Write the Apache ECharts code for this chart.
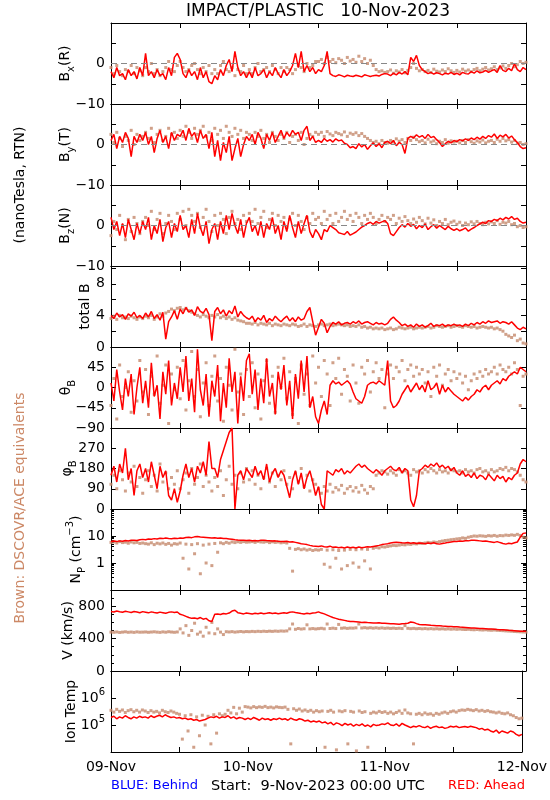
<!DOCTYPE html>
<html><head><meta charset="utf-8">
<script src="https://cdn.jsdelivr.net/npm/echarts@6/dist/echarts.min.js"></script>
<style>html,body{margin:0;padding:0;background:#fff}#c{width:550px;height:800px}</style>
</head><body><div id="c"></div>
<script>
// x axis: hours since 9-Nov-2023 00:00 UTC, samples every 30 min
const dayLabels = ['09-Nov','10-Nov','11-Nov','12-Nov'];
const stepHours = 0.5;

const bxA = [-2,-3.5,-1,-3,-2.5,-4,-1.5,-3,-2,-3.8,-1,-3,
 2.5,-3,-2,-3.5,-1.5,-3,-2.5,-4,-1,-3,1.5,2.5,
 1,-2.5,-3.5,-1.5,-3,-2,-4,-1,-3.5,-2,-4.5,-5,
 -3,-4,-1.5,-3,-0.5,1,-2,3,-1,-3,-2,-3.5,
 -2,-3.5,-1,-3,-2.5,-1.5,-3.5,-2,-3,-1,-2.5,-3.5,
 -1.5,-3,-2,-0.5,2.5,-1,3,-2,-0.5,-2,-1,-2.5,
 -1.5,-2,-0.5,3,-2.5,-3,-3.2,-2.8,-3,-3.3,-2.9,-3.1,
 -3.2,-2.9,-3.1,-3.3,-2.8,-3,-3.2,-3,-2.9,-3.1,-2.7,-2.5,
 -2.6,-3,-2.4,-2.8,-2.2,-2.6,-2,-2.8,1.5,0.5,2,-0.5,
 -1.5,-2,-2.5,-2.2,-2.6,-2.3,-2.5,-2.8,-2.4,-2.6,-2.2,-2.7,
 -2.4,-2.8,-2.2,-2.5,-2.6,-2,-2.4,-1.8,-2.3,-2.1,-1.7,-2.2,
 -1.8,-1.5,-2.2,-0.5,-1.7,-2,-1.2,-1.8,0,-1.5,-2,-1,
 -1.5];
const bxD = [-1,-2.5,-0.5,-2,-3,-1.5,-2,-0.5,-2.5,-1,-1.8,-3,
 -1,-2,0,-2.5,-1.5,-3,-2,-1,0.5,-1.5,-2,-0.5,
 0.5,-1,-2,-1.5,-0.5,0,-1.5,-2.5,-1,-2,-0.5,-2.5,
 -1.5,-2.5,-0.5,0.5,-1.5,-2,-1,-3,-1.5,-2,-0.5,-2.5,
 -1.5,-2.5,-1,0,-2,-1.5,-1,-2,-0.5,-1.5,-2.5,-1,
 -2,-1,-1.5,-2.5,-1.5,-0.5,-1,-2,0,-1,-0.5,0.5,
 0.5,1,0,1.5,0.5,1,0.2,1.2,0.8,0,1.5,0.6,
 1,0.3,1.8,0.5,1.2,0,0.8,-0.5,-1.5,-2,-1.8,-2.2,
 -2,-1.6,-2.4,-1.8,-2.1,-1.5,-2.3,-1.7,-1,0,-1.2,-1.8,
 -1.5,-2,-1.7,-2.2,-1.4,-1.9,-2.1,-1.6,-2,-1.3,-1.8,-2.2,
 -1.7,-2.1,-1.4,-1.9,-1.6,-2,-1.5,-1.2,-1.8,-1.4,-1,-1.6,
 -1.3,-0.8,-1.5,-1.1,-0.6,-1.2,-0.5,0,-0.8,-0.3,0.5,0,
 0.3];
const byA = [1,2.5,-1,2,0.5,3,1.5,-3,2,0.5,2.5,1,
 3,0,2,-2,1.5,3.5,0.5,2,-1,3,1,2.5,
 2,3.5,1,4,2,3,0.5,3.5,1.5,2.5,-1,3,
 -3,1,-4,0.5,-2,2,-4,-1,1.5,-3,0,2,
 1,2.5,0,3,1.5,-1,2.5,1,3,0.5,2,3.5,
 1.5,3,2,3.5,2.5,3,1,3.5,4.5,1,2,0.5,
 1,0.5,1.5,0.8,1.2,0.6,1.4,0.9,1.1,0.3,0,-0.8,
 -0.5,-1,0.2,-0.6,0,-1.2,-0.3,0.4,-0.5,0.2,-0.8,0.5,
 0.8,0.2,1,-0.3,0.5,0,-2.2,1.5,2,1.6,2.4,1.8,
 2.2,1.5,2.5,1.7,2,1.2,0.5,-0.5,0.2,0.8,0.4,1,
 0.7,1.2,0.9,1.4,1,1.6,1.2,1.8,1.3,2,1.5,2.2,
 1.8,2.6,1.5,2.3,1.9,2.5,1.6,2.1,1.2,0.5,-0.5,-1,
 -0.8];
const byD = [2.5,0.5,3,1.5,-0.5,2,1,3.5,0,2.5,1,2,
 3,1.5,4,0.5,2.5,3.5,1,2,4,2.5,3,1.5,
 3.5,2,4.5,3,1.5,4,2.5,3.5,4.5,2,3,1,
 4,2.5,3.5,1.5,4.5,3,2,4,2.5,3.5,1.5,3,
 2.5,1,3,2,3.5,1.5,2.5,0.5,3,2,1,2.5,
 1.5,3,0.5,2,2.5,1,3,0,1.5,2.5,2,3,
 2.5,3,2,3.2,2.6,2.2,3,2.7,2.4,3.1,2,2.8,
 2.5,2.9,2.2,2.7,2,1.5,1,0.5,0.8,0.2,1,0.5,
 0.3,1,0.6,1.4,0.8,1.2,0.5,1.5,1,1.8,1.2,0.7,
 1,0.4,1.3,0.6,0.9,0.2,0.8,0.5,1.2,0.3,0.9,0.6,
 0.8,0.4,1,0.5,1.2,0.7,0.3,0.9,0.6,1.1,0.4,0.8,
 1,0.5,1.3,0.8,1.5,0.9,1.2,0.6,1,0.3,0.5,0,
 0.2];
const bzA = [2,-1,1,-2.5,0.5,-3,1.5,-1,-3.5,0.5,-2,1,
 -1,2,-3.5,0,-2,1.5,-4,-0.5,1,-3,0.5,-1.5,
 2.5,-1,0,-3,1.5,-2,3,-0.5,-2.5,1,-4.5,-1,
 0.5,-3.5,1,-2,2.5,-1,3,0,-2,1.5,-3,0.5,
 2,-1.5,0,-2.5,1,-3,0.5,-1,2,-2,0,-3.5,
 1,-1.5,2.5,-0.5,-3,1,-2,0.5,2.5,-1.5,-3,-1,
 -2,-3.5,-1,-1.5,0,-0.5,-1,-1.8,-2,-2.2,-1.5,-2.4,
 -2,-1.6,-1,-0.4,0,0.5,0.8,0.3,1,0.6,0.9,1.2,
 0.5,-2,-2.5,-1.5,-0.5,0.2,-0.4,0.5,-0.2,0.3,-0.8,0,
 -0.5,0.4,-1,-0.3,0.2,-0.7,0,-0.5,-1,-0.2,-0.8,-1.2,
 -0.8,-1.3,-1,-0.6,-1.4,-0.9,-0.5,0,0.4,0.8,0.5,1.2,
 1,1.5,1.2,1.8,1.4,2,1.6,2.2,1.5,1.8,1,0.6,
 0.8];
const bzD = [-2.5,1,-1,2.5,0,-3.5,1.5,-1.5,2,0.5,-2,1,
 2,0,3.5,-1,1.5,3,-2,0.5,2.5,1,-1,3,
 1.5,3.5,0,4,2.5,1,3,-0.5,2,4,1,-1.5,
 2.5,0,3,1.5,-2,2,3.5,0.5,1.5,-1,2.5,1,
 3,1,4,0.5,2,3.5,-0.5,1.5,3,0,2.5,1,
 2,-0.5,1.5,3,0,2.5,1,-1,2,0.5,3,1.5,
 2,0.5,3.5,1.5,2.5,0.5,3,1,2,3.5,1.5,2.5,
 1,3,2,0.5,2.5,1.5,3,2,0.5,1.5,2.5,1,
 2,1.5,2.5,0.5,1.8,1,2.2,1.2,0.5,1.6,0.8,2,
 1.2,0.4,1.8,0.6,1.4,0,1,0.5,1.5,0.2,0.8,1.1,
 0.3,0.8,0,0.6,0.2,0.9,0.4,1,0.5,0.2,0.8,0.4,
 0.9,0.5,1.2,0.3,0.8,0.6,1,0.2,0.5,-0.3,0,-0.5,
 -0.3];
const btA = [4,3.6,4.3,3.8,4.1,3.5,4.2,3.9,4.4,3.7,4,3.6,
 4.3,3.8,4.5,3.6,4.1,3.4,4.4,1,3.2,3.8,4.6,3.5,
 4.8,4.2,5,4.4,4.7,4,5.1,4.5,4.3,4.9,4.1,0.8,
 4.5,5,4.2,4.7,3.9,4.6,4.2,5.2,3.8,4.5,4,3.7,
 3.5,3.9,3.2,3.7,3.4,4,3.1,3.6,3.3,3.9,3.5,3.2,
 3.6,3.9,3.3,3.7,3.2,3.8,3.4,3.6,4.5,5,3.2,1.5,
 2.5,3.5,3,1.8,2.6,3.1,2.9,3.2,2.8,3,3.1,2.9,
 3.2,3,3.3,2.9,3.1,3.2,3,2.8,3.1,2.9,3,2.8,
 3,3.5,3.8,3.4,3.1,2.7,2.9,2.6,2.8,2.5,2.9,2.6,
 2.8,2.5,2.7,3,2.6,2.8,2.7,2.9,2.6,2.8,2.7,2.9,
 2.7,2.8,2.6,2.9,2.7,3,2.8,3.1,2.9,3.2,3,3.3,
 3.1,3.2,3.3,3,3.2,3.1,2.9,3.2,2.8,2.4,2.2,2.5,
 2.3];
const btD = [3.6,3.9,3.5,4,3.7,3.8,3.6,3.9,3.7,3.5,3.8,3.6,
 3.9,3.7,4,3.5,3.8,4.2,3.9,4.3,4.5,4.8,4.6,4.9,
 5,4.7,4.9,4.6,4.4,4.2,4,3.8,4.1,3.9,3.7,4,
 3.8,4.1,3.7,3.9,3.6,3.8,3.5,3.7,3.4,3.3,3.2,3,
 3,2.9,3.1,2.8,3,2.9,2.8,3,2.7,2.9,2.8,2.7,
 2.9,2.8,2.7,2.9,2.8,2.6,2.7,2.9,2.6,2.8,2.7,2.6,
 2.8,2.9,2.7,2.8,2.9,2.7,2.8,2.9,2.8,2.7,2.8,2.6,
 2.7,2.6,2.8,2.5,2.6,2.4,2.5,2.3,2.4,2.3,2.4,2.2,
 2.3,2.4,2.2,2.3,2.5,2.4,2.3,2.4,2.5,2.3,2.4,2.5,
 2.4,2.5,2.6,2.4,2.5,2.7,2.6,2.5,2.6,2.7,2.5,2.6,
 2.7,2.6,2.5,2.7,2.6,2.5,2.6,2.4,2.5,2.6,2.5,2.4,
 2.5,2.3,2.4,2.2,2,1.6,1.4,1.2,1.5,0.8,1,0.5,
 0.4];
const thA = [10,-30,40,-10,-50,20,-20,30,-60,0,45,-35,
 15,-45,55,-20,5,-70,35,-15,60,-40,10,-25,
 45,-10,70,-30,20,-55,85,-5,-40,30,-65,15,
 -20,50,-75,10,-45,65,-10,35,-80,25,-30,60,
 75,-15,40,-50,20,-35,65,-20,10,-60,35,-5,
 50,-40,15,-70,30,-25,60,-10,70,-45,-20,-65,
 -80,-50,-30,-60,5,15,8,12,5,10,15,8,
 -10,-25,-30,-35,-20,5,10,12,8,15,10,5,
 60,-30,-45,-40,-30,-15,-5,5,-10,0,10,-5,
 5,-10,15,-5,0,10,-15,5,-10,0,-8,-15,
 -20,-25,-30,-22,-28,-20,-15,-5,-10,0,5,-5,
 5,10,15,8,20,15,25,30,35,30,45,40,
 35];
const thD = [-40,20,-70,50,-20,0,35,-55,15,-30,60,-10,
 40,-60,25,-15,70,-35,5,50,-80,30,-5,45,
 -25,60,-50,15,80,-20,40,-65,10,55,-40,25,
 70,-30,20,-75,45,5,-50,85,-10,30,-60,40,
 -20,55,-45,30,-70,15,60,-35,25,-55,45,0,
 65,-25,35,-60,20,-80,50,-15,30,-40,70,10,
 45,-20,60,30,-40,55,20,65,-15,40,25,-30,
 50,10,-35,45,30,60,-10,35,55,20,40,-45,
 30,50,20,45,35,60,15,40,50,25,45,30,
 40,10,35,-20,45,25,50,5,30,40,15,35,
 20,30,10,25,-5,15,30,20,35,25,40,30,
 35,45,30,50,40,35,45,30,55,40,-40,25,
 30];
const phA = [150,190,120,200,160,270,130,180,60,170,200,140,
 180,120,210,150,90,190,140,170,60,40,90,30,
 80,150,200,140,180,120,190,160,210,150,300,180,
 180,140,220,260,300,340,360,0,150,170,130,180,
 160,140,190,150,170,130,200,120,160,180,140,170,
 150,100,50,130,170,110,160,90,140,170,120,60,
 100,20,0,170,160,150,175,165,180,155,170,160,
 175,190,200,185,195,180,170,160,175,165,150,170,
 180,190,175,170,185,160,180,170,40,10,60,170,
 180,195,185,200,190,205,185,195,180,190,170,185,
 160,150,170,145,155,140,160,135,150,145,130,155,
 140,125,150,135,145,120,140,130,150,160,200,220,
 210];
const phD = [110,150,90,170,130,80,160,120,190,100,140,70,
 130,170,100,150,80,200,120,160,90,140,110,170,
 90,130,160,70,180,110,140,200,100,150,120,80,
 140,100,170,60,130,190,110,150,90,160,120,180,
 130,170,110,150,90,140,180,120,160,100,150,130,
 170,110,140,90,160,120,180,100,150,80,130,110,
 90,70,100,80,110,75,95,85,105,70,90,100,
 80,95,75,105,85,70,100,90,150,160,170,165,
 155,170,160,150,175,165,170,160,150,175,165,170,
 160,175,165,180,170,160,175,165,170,160,175,170,
 165,170,160,175,165,170,160,175,180,165,170,160,
 175,165,170,180,175,185,170,180,175,165,150,130,
 120];
const npA = [6.3,6.5,6.2,6.6,6.4,6.8,6.5,6.9,7,6.8,7.2,7.5,
 7.3,7.8,7.6,8,7.7,8.2,8,8.4,8.1,7.9,8.3,8,
 8.5,8.2,8.8,9,8.7,9.3,9.6,9.2,9,8.8,8.6,8.4,
 8.6,8.3,8.5,8.1,8,7.8,7.6,7.3,7.1,7,6.9,6.8,
 6.9,6.7,6.8,6.6,6.9,7,6.8,6.7,6.5,6.6,6.4,6.3,
 6.2,6.4,6,6.1,5.8,5.5,5.2,5,4.8,4.5,4.3,4.2,
 4.1,4.3,4,3.9,4.2,3.8,3.9,3.7,3.8,3.6,3.9,3.7,
 3.8,3.6,3.9,3.7,3.8,4,3.9,4.1,4.3,4.5,4.8,5,
 5.2,5.5,5.7,5.9,5.8,5.6,5.5,5.7,5.4,5.6,5.3,5.5,
 5.4,5.2,5.5,5.3,5.6,5.2,5,5.3,5.5,5.8,6,6.2,
 6.3,6.5,6.4,6.7,6.6,6.9,7,6.8,6.6,6.4,6.5,6.2,
 6,5.8,6.2,5.7,5.3,5,5.4,5.2,5.6,6,9,12.5,
 13];
const npD = [5.8,6,5.5,6.2,5.7,5.9,5.4,6,5.6,5.8,5.3,5.5,
 5.2,5,5.6,4.8,5.4,5.1,5.5,4.9,5.3,4.6,5.2,5,
 5.5,1.5,5,0.6,4.8,2.2,5.2,0.4,4.6,1,5,0.8,
 5.3,2.5,5.6,5.2,5.8,5.4,6,5.7,6.1,5.8,6.2,5.9,
 6,6.2,5.8,6.3,6,5.9,6.2,5.7,6.1,5.8,6,5.6,
 5.8,5.5,3.5,0.5,3.2,3.4,3.1,3.3,3,3.2,2.9,3.1,
 3,3.2,0.9,3,0.7,3.1,1.5,2.9,0.6,3,0.8,3.2,
 1,3.1,0.7,3.3,1.2,3.2,0.6,3.5,3.8,3.6,4,3.9,
 4.1,4.3,4.5,4.4,4.6,4.8,4.7,5,4.9,5.2,5.1,5.4,
 5.3,5.5,5.8,5.6,6,5.8,6.2,6.5,6.8,7,7.3,7.5,
 7.8,8,8.5,8.2,9,9.5,10,9.8,10.2,10,9.7,10.3,
 10,10.5,9.8,10.4,10.2,10.8,10.5,11,10.6,11.5,10.5,9,
 8.5];
const vA = [735,728,740,732,725,738,730,722,735,728,720,733,
 726,718,730,722,715,727,720,712,724,730,722,728,
 700,690,675,660,650,655,645,660,640,650,620,610,
 700,705,698,710,705,715,740,750,720,712,705,715,
 710,705,712,708,715,706,712,720,710,716,708,714,
 718,712,725,730,722,716,710,705,712,708,715,720,
 730,715,705,690,675,660,650,640,632,625,618,612,
 610,608,605,600,602,598,596,594,592,595,590,588,
 586,584,582,580,578,582,585,590,605,600,585,575,
 572,570,568,565,563,560,558,555,553,550,548,546,
 545,542,540,538,535,532,530,528,526,524,522,520,
 518,515,512,510,508,505,502,500,498,495,492,490,
 492];
const vD = [480,478,482,476,480,484,478,481,477,483,479,480,
 482,478,481,484,480,477,483,479,485,481,478,482,
 520,470,560,440,500,590,455,480,430,540,470,600,
 460,520,480,450,485,482,486,480,484,488,483,487,
 485,489,486,490,487,491,488,492,489,493,490,494,
 492,495,520,580,515,525,518,522,570,520,524,519,
 523,527,521,580,525,529,524,575,528,532,526,530,
 529,533,580,531,535,530,534,529,533,528,532,527,
 530,526,529,525,528,524,560,527,523,526,522,525,
 521,524,520,523,519,522,518,521,517,520,516,519,
 515,518,514,512,515,511,509,512,508,506,509,505,
 503,506,502,500,498,495,493,491,488,486,484,482,
 480];
const tA = [1.9e5,2.1e5,1.7e5,2.0e5,1.8e5,2.2e5,1.9e5,1.7e5,2.0e5,1.8e5,2.1e5,1.9e5,
 2.0e5,1.8e5,2.2e5,1.9e5,2.1e5,2.3e5,2.0e5,2.4e5,2.1e5,1.9e5,2.0e5,1.8e5,
 1.9e5,1.7e5,1.8e5,1.6e5,1.7e5,1.5e5,1.6e5,1.4e5,1.5e5,1.6e5,1.8e5,2.0e5,
 1.9e5,2.1e5,1.8e5,2.0e5,1.9e5,2.2e5,1.8e5,2.0e5,1.7e5,1.9e5,1.8e5,1.6e5,
 1.8e5,1.6e5,1.9e5,1.7e5,1.5e5,1.8e5,1.6e5,1.7e5,1.5e5,1.7e5,1.6e5,1.8e5,
 1.6e5,1.7e5,1.5e5,1.8e5,1.6e5,1.5e5,1.7e5,1.6e5,1.4e5,1.5e5,1.3e5,1.4e5,
 1.3e5,1.4e5,1.2e5,1.3e5,1.1e5,1.25e5,1.0e5,1.2e5,1.1e5,0.95e5,1.15e5,1.0e5,
 1.1e5,0.9e5,1.05e5,0.95e5,1.1e5,0.9e5,1.0e5,0.85e5,1.05e5,0.95e5,1.0e5,1.1e5,
 1.05e5,1.2e5,1.0e5,0.95e5,1.1e5,0.9e5,1.15e5,1.0e5,0.9e5,0.8e5,0.9e5,0.85e5,
 0.95e5,0.85e5,0.8e5,0.9e5,0.75e5,0.85e5,0.9e5,0.8e5,0.85e5,0.75e5,0.8e5,0.9e5,
 0.85e5,0.9e5,0.8e5,0.85e5,0.88e5,0.82e5,0.9e5,0.85e5,0.8e5,0.7e5,0.75e5,0.65e5,
 0.7e5,0.6e5,0.55e5,0.65e5,0.5e5,0.6e5,0.55e5,0.5e5,0.6e5,0.55e5,0.45e5,0.4e5,
 0.45e5];
const tD = [3.5e5,3.0e5,3.8e5,3.2e5,3.6e5,2.9e5,3.4e5,3.7e5,3.1e5,3.5e5,3.0e5,3.6e5,
 3.3e5,2.9e5,3.4e5,3.0e5,3.2e5,2.8e5,3.5e5,3.1e5,2.9e5,3.3e5,3.0e5,2.7e5,
 2.5e5,0.3e5,2.2e5,0.6e5,2.4e5,0.15e5,2.0e5,0.4e5,2.3e5,1.0e5,2.1e5,0.2e5,
 2.4e5,0.5e5,2.6e5,2.2e5,2.5e5,3.5e5,2.8e5,4.5e5,2.6e5,4.2e5,3.0e5,4.8e5,
 4.6e5,4.3e5,4.8e5,4.4e5,4.7e5,4.5e5,4.9e5,4.4e5,4.6e5,4.3e5,4.7e5,4.5e5,
 4.4e5,4.6e5,3.8e5,0.2e5,4.0e5,3.5e5,3.9e5,3.3e5,3.6e5,3.2e5,3.5e5,3.0e5,
 3.4e5,3.1e5,3.3e5,0.15e5,3.2e5,3.5e5,3.0e5,0.12e5,3.3e5,3.1e5,3.4e5,0.2e5,
 3.2e5,3.0e5,0.11e5,3.3e5,2.9e5,3.1e5,0.15e5,2.7e5,3.0e5,2.8e5,3.2e5,2.9e5,
 3.1e5,2.7e5,3.0e5,2.6e5,2.9e5,3.3e5,2.7e5,3.6e5,2.8e5,2.6e5,0.2e5,2.5e5,
 2.7e5,2.4e5,2.8e5,2.5e5,2.6e5,2.3e5,2.7e5,2.5e5,2.8e5,3.0e5,2.7e5,3.1e5,
 3.3e5,3.0e5,3.4e5,3.6e5,3.5e5,3.8e5,3.6e5,3.4e5,3.7e5,3.3e5,3.5e5,3.2e5,
 3.4e5,3.1e5,3.0e5,2.8e5,3.0e5,2.7e5,2.6e5,2.8e5,2.4e5,2.2e5,1.9e5,1.7e5,
 1.8e5];

const RED = '#ff0000', BROWN = '#c4886c', FONT = 'DejaVu Sans';
const panels = [
 {name:'B{sub|x}(R)', red:bxA, brown:bxD, min:-10, max:10, interval:5, labels:[-10,0], gap:35, zero:true},
 {name:'B{sub|y}(T)', red:byA, brown:byD, min:-10, max:10, interval:5, labels:[-10,0], gap:35, zero:true},
 {name:'B{sub|z}(N)', red:bzA, brown:bzD, min:-10, max:10, interval:5, labels:[-10,0], gap:35, zero:true},
 {name:'total B', red:btA, brown:btD, min:0, max:10.25, interval:2, labels:[0,4,8], gap:19},
 {name:'θ{sub|B}', red:thA, brown:thD, min:-90, max:90, interval:45, labels:[-90,-45,0,45], gap:34},
 {name:'φ{sub|B}', red:phA, brown:phD, min:0, max:360, interval:90, labels:[0,90,180,270], gap:33},
 {name:'N{sub|P} (cm{sup|−3})', red:npA, brown:npD, log:true, min:0.1, max:100, labels:[1,10], gap:24, minor:9},
 {name:'V (km/s)', red:vA, brown:vD, min:0, max:1000, interval:400, minor:4, labels:[0,400,800], gap:36},
 {name:'Ion Temp', red:tA, brown:tD, log:true, min:1e4, max:1e7, labels:[1e5,1e6], sup:true, gap:33},
];

const TOP = 23, H = 81, LEFT = 111, W = 415;
const rich = {
  sub:{fontSize:10, fontFamily:FONT, color:'#000', verticalAlign:'bottom', lineHeight:22},
  sup:{fontSize:10, fontFamily:FONT, color:'#000', verticalAlign:'top', lineHeight:22}
};
const grids = [], xAxes = [], yAxes = [], series = [];
panels.forEach((p, i) => {
  grids.push({left:LEFT, width:W, top:TOP + i*H, height:H, show:false});
  const last = i === panels.length - 1;
  const xBase = {type:'value', gridIndex:i, min:0, max:72, interval:12,
    axisLine:{show:true, onZero:false, lineStyle:{color:'#000', width:1}},
    axisTick:{show:true, inside:true, length:5, lineStyle:{color:'#000'}},
    splitLine:{show:false}};
  xAxes.push(Object.assign({}, xBase, {position:'bottom',
    axisLabel:{show:last, margin:8, fontSize:14, fontFamily:FONT, color:'#000', showMaxLabel:true,
      formatter:v => (v % 24 === 0) ? dayLabels[v/24] : ''}}));
  xAxes.push(Object.assign({}, xBase, {position:'top', axisLabel:{show:false}}));
  const isLab = v => p.labels.some(l => Math.abs(v - l) <= Math.abs(l)*1e-6 + 1e-9);
  const fmt = v => {
    if (!isLab(v)) return '';
    if (p.sup) return '10{sup|' + Math.round(Math.log10(v)) + '}';
    return String(v).replace('-', '−');
  };
  const yBase = {gridIndex:i, min:p.min, max:p.max,
    axisLine:{show:true, onZero:false, lineStyle:{color:'#000', width:1}},
    axisTick:{show:true, inside:true, length:5, lineStyle:{color:'#000'}},
    splitLine:{show:false}};
  if (p.log) { yBase.type = 'log'; yBase.logBase = 10; }
  else { yBase.type = 'value'; yBase.interval = p.interval; }
  if (p.minor) yBase.minorTick = {show:true, splitNumber:p.minor, length:3, lineStyle:{color:'#000'}};
  yAxes.push(Object.assign({}, yBase, {position:'left',
    name:p.name, nameLocation:'middle', nameGap:p.gap, nameRotate:90, nameMoveOverlap:false,
    nameTextStyle:{fontSize:14, fontFamily:FONT, color:'#000', rich:rich},
    axisLabel:{show:true, margin:6, fontSize:14, fontFamily:FONT, color:'#000',
      showMinLabel:true, showMaxLabel:true, formatter:fmt, rich:rich}}));
  yAxes.push(Object.assign({}, yBase, {position:'right', axisLabel:{show:false}}));
  series.push({type:'scatter', xAxisIndex:2*i, yAxisIndex:2*i, symbol:'rect', symbolSize:3,
    itemStyle:{color:BROWN}, z:2, silent:true,
    data:p.brown.map((v,k) => [k*stepHours, v])});
  const red = {type:'line', xAxisIndex:2*i, yAxisIndex:2*i, showSymbol:false, z:3, silent:true,
    lineStyle:{color:RED, width:1.5}, data:p.red.map((v,k) => [k*stepHours, v])};
  if (p.zero) red.markLine = {silent:true, symbol:'none', label:{show:false},
    lineStyle:{color:'#888', type:[6,4], width:1}, data:[{yAxis:0}]};
  series.push(red);
});

const chart = echarts.init(document.getElementById('c'), null, {renderer:'canvas'});
chart.setOption({
  animation:false, backgroundColor:'#fff',
  grid:grids, xAxis:xAxes, yAxis:yAxes, series:series,
  graphic:[
    {type:'text', x:318, y:12, style:{text:'IMPACT/PLASTIC   10-Nov-2023', fill:'#000',
      font:'17px "DejaVu Sans"', textAlign:'center', textVerticalAlign:'middle', align:'center', verticalAlign:'middle'}},
    {type:'text', x:20, y:185, rotation:Math.PI/2, style:{text:'(nanoTesla, RTN)', fill:'#000',
      font:'14px "DejaVu Sans"', textAlign:'center', textVerticalAlign:'middle', align:'center', verticalAlign:'middle'}},
    {type:'text', x:20, y:508, rotation:Math.PI/2, style:{text:'Brown: DSCOVR/ACE equivalents', fill:'#cc8866',
      font:'14px "DejaVu Sans"', textAlign:'center', textVerticalAlign:'middle', align:'center', verticalAlign:'middle'}},
    {type:'text', x:111, y:786, style:{text:'BLUE: Behind', fill:'#0000ff',
      font:'13px "DejaVu Sans"', textAlign:'left', textVerticalAlign:'middle', align:'left', verticalAlign:'middle'}},
    {type:'text', x:211, y:786, style:{text:'Start:  9-Nov-2023 00:00 UTC', fill:'#000',
      font:'14.5px "DejaVu Sans"', textAlign:'left', textVerticalAlign:'middle', align:'left', verticalAlign:'middle'}},
    {type:'text', x:525, y:786, style:{text:'RED: Ahead', fill:'#ff0000',
      font:'13px "DejaVu Sans"', textAlign:'right', textVerticalAlign:'middle', align:'right', verticalAlign:'middle'}}
  ]
});
</script>
</body></html>
